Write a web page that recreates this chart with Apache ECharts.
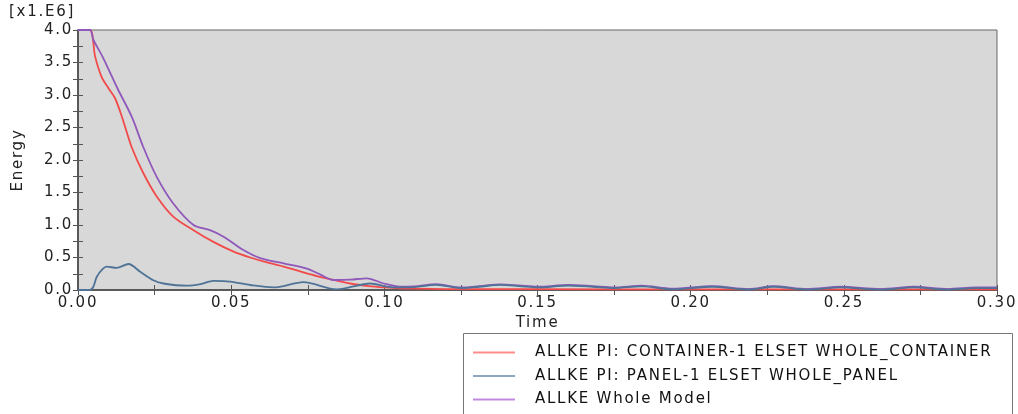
<!DOCTYPE html>
<html>
<head>
<meta charset="utf-8">
<script src="https://cdn.jsdelivr.net/npm/echarts@6/dist/echarts.min.js"></script>
<style>html,body{margin:0;padding:0;background:#fff}#c{width:1018px;height:414px}</style>
</head>
<body>
<div id="c"></div>
<script>
// Units: energy in 1e6
const seriesNames = [
  'ALLKE PI: CONTAINER-1 ELSET WHOLE_CONTAINER',
  'ALLKE PI: PANEL-1 ELSET WHOLE_PANEL',
  'ALLKE Whole Model'
];
const redT = [0, 0.0039, 0.0056, 0.0077, 0.0100, 0.0121, 0.0143, 0.0175, 0.0213, 0.0257, 0.0311, 0.0377, 0.0442, 0.0508, 0.0562, 0.0620, 0.0671, 0.0730, 0.0780, 0.0840, 0.0889, 0.0950, 0.0998, 0.105, 0.110, 0.120, 0.150, 0.200, 0.250, 0.300];
const redV = [4.0, 4.0, 3.59, 3.28, 3.10, 2.95, 2.67, 2.2, 1.8, 1.44, 1.13, 0.92, 0.74, 0.59, 0.50, 0.42, 0.36, 0.28, 0.215, 0.15, 0.10, 0.06, 0.04, 0.025, 0.02, 0.015, 0.012, 0.01, 0.01, 0.01];
const blueT = [0, 0.0039, 0.0050, 0.0061, 0.0080, 0.0094, 0.0126, 0.0165, 0.0203, 0.0246, 0.0279, 0.0355, 0.0400, 0.0442, 0.0497, 0.0562, 0.0638, 0.0736, 0.0845, 0.0954, 0.102, 0.108, 0.117, 0.125, 0.131, 0.138, 0.144, 0.150, 0.160, 0.168, 0.175, 0.184, 0.194, 0.207, 0.219, 0.227, 0.238, 0.249, 0.262, 0.273, 0.284, 0.293, 0.300];
const blueV = [0, 0, 0.05, 0.2, 0.32, 0.36, 0.34, 0.40, 0.28, 0.15, 0.10, 0.066, 0.09, 0.14, 0.13, 0.077, 0.04, 0.12, 0.01, 0.10, 0.045, 0.04, 0.08, 0.03, 0.05, 0.078, 0.06, 0.04, 0.067, 0.05, 0.03, 0.056, 0.01, 0.05, 0.005, 0.05, 0.005, 0.04, 0.005, 0.04, 0.005, 0.03, 0.03];
const purpleT = [0, 0.0039, 0.0050, 0.0080, 0.0129, 0.0175, 0.0213, 0.0257, 0.0311, 0.0377, 0.0431, 0.0475, 0.0540, 0.0595, 0.0671, 0.0747, 0.0790, 0.0834, 0.0890, 0.0943, 0.0998, 0.105, 0.111, 0.117, 0.125, 0.131, 0.138, 0.144, 0.150, 0.160, 0.168, 0.175, 0.184, 0.194, 0.207, 0.219, 0.227, 0.238, 0.249, 0.262, 0.273, 0.284, 0.293, 0.300];
const purpleV = [4.0, 4.0, 3.85, 3.59, 3.10, 2.67, 2.2, 1.74, 1.33, 1.0, 0.92, 0.82, 0.615, 0.49, 0.41, 0.33, 0.24, 0.154, 0.16, 0.18, 0.10, 0.05, 0.06, 0.09, 0.04, 0.06, 0.088, 0.07, 0.05, 0.077, 0.06, 0.04, 0.066, 0.02, 0.06, 0.015, 0.06, 0.015, 0.05, 0.015, 0.05, 0.015, 0.04, 0.04];
const xTickLabels = ['0.00', '0.05', '0.10', '0.15', '0.20', '0.25', '0.30'];
const yTickLabels = ['0.0', '0.5', '1.0', '1.5', '2.0', '2.5', '3.0', '3.5', '4.0'];

const colors = ['#f24a4a', '#4f7396', '#9058bb'];
const legendColors = ['#ff8c8c', '#8fa6c4', '#c08ae0'];
const FONT = 'DejaVu Sans';
const pair = (ts, vs) => ts.map((t, i) => [t, vs[i]]);

const axisLine = { show: true, lineStyle: { color: '#555', width: 1.5 } };
const tick = { show: true, inside: true, length: 5, lineStyle: { color: '#555' } };
const minor = { show: true, splitNumber: 2, length: 5, lineStyle: { color: '#555' } };

const chart = echarts.init(document.getElementById('c'));
chart.setOption({
  animation: false,
  backgroundColor: '#fff',
  grid: { left: 78, right: 21, top: 30, bottom: 124, show: true, backgroundColor: '#d8d8d8', borderColor: '#666', borderWidth: 1 },
  graphic: [
    { type: 'rect', left: 463, top: 333, shape: { width: 549, height: 100 }, style: { fill: '#fff', stroke: '#777', lineWidth: 1 }, z: 0 },
    { type: 'text', left: 9, top: 5, style: { text: '[x1.E6]', font: '15px "' + FONT + '"', fill: '#222' } }
  ],
  legend: {
    orient: 'vertical', left: 473, top: 345, itemGap: 8.5, padding: 0,
    icon: 'rect', itemWidth: 42, itemHeight: 2,
    data: seriesNames.map((n, i) => ({ name: n, itemStyle: { color: legendColors[i] } })),
    textStyle: { fontFamily: FONT, fontSize: 15, color: '#111', padding: [0, 0, 0, 15] },
    z: 5
  },
  xAxis: [
    { type: 'value', min: 0, max: 0.3, interval: 0.05, position: 'bottom',
      name: 'Time', nameLocation: 'middle', nameGap: 22,
      nameTextStyle: { fontFamily: FONT, fontSize: 15, color: '#222' },
      axisLine, axisTick: tick, minorTick: minor, splitLine: { show: false },
      axisLabel: { fontFamily: FONT, fontSize: 15, color: '#222', margin: 6,
        formatter: v => xTickLabels[Math.round(v / 0.05)] } },
    { type: 'value', min: 0, max: 0.3, interval: 0.05, position: 'top',
      axisLine, axisTick: tick, minorTick: minor, splitLine: { show: false }, axisLabel: { show: false } }
  ],
  yAxis: [
    { type: 'value', min: 0, max: 4, interval: 0.5, position: 'left',
      name: 'Energy', nameLocation: 'middle', nameGap: 52, nameRotate: 90,
      nameTextStyle: { fontFamily: FONT, fontSize: 15, color: '#222' },
      axisLine, axisTick: tick, minorTick: minor, splitLine: { show: false },
      axisLabel: { fontFamily: FONT, fontSize: 15, color: '#222', margin: 5,
        formatter: v => yTickLabels[Math.round(v / 0.5)] } },
    { type: 'value', min: 0, max: 4, interval: 0.5, position: 'right',
      axisLine, axisTick: tick, minorTick: minor, splitLine: { show: false }, axisLabel: { show: false } }
  ],
  series: [
    { name: seriesNames[0], type: 'line', data: pair(redT, redV), symbol: 'none', smooth: 0.3,
      lineStyle: { color: colors[0], width: 1.8 }, itemStyle: { color: colors[0] }, z: 2 },
    { name: seriesNames[2], type: 'line', data: pair(purpleT, purpleV), symbol: 'none', smooth: 0.3,
      lineStyle: { color: colors[2], width: 1.8 }, itemStyle: { color: colors[2] }, z: 3 },
    { name: seriesNames[1], type: 'line', data: pair(blueT, blueV), symbol: 'none', smooth: 0.3,
      lineStyle: { color: colors[1], width: 1.8 }, itemStyle: { color: colors[1] }, z: 4 }
  ]
});

// The reference's font is drawn with wider letter spacing; apply it to the canvas and repaint.
try {
  const painter = chart.getZr().painter;
  const layers = painter.getLayers ? painter.getLayers() : {};
  let ok = false;
  Object.keys(layers).forEach(k => {
    const ctx = layers[k].ctx;
    if (ctx && 'letterSpacing' in ctx) { ctx.letterSpacing = '1.75px'; ok = true; }
  });
  if (ok && painter.refresh) painter.refresh(true);
} catch (e) {}
</script>
</body>
</html>
